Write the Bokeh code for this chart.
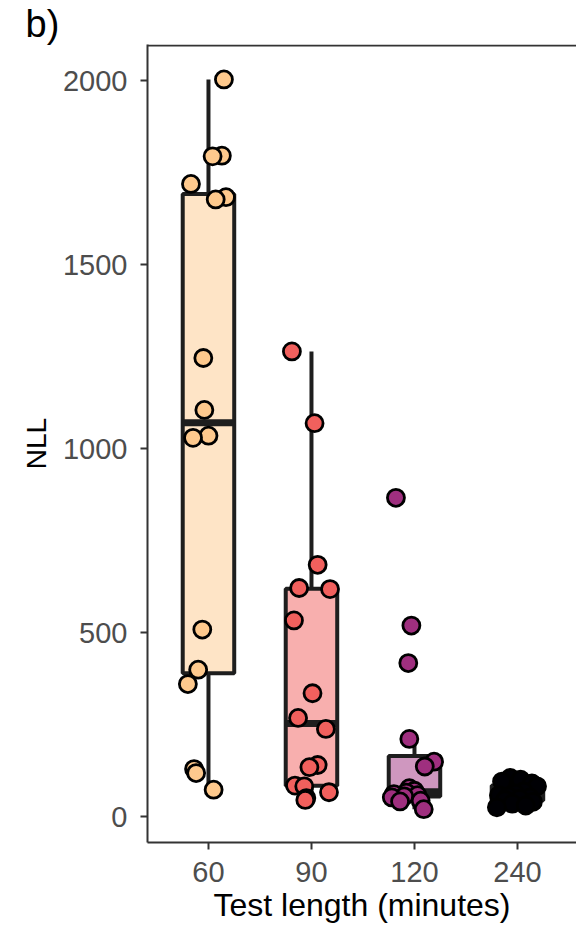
import numpy as np
from bokeh.plotting import figure
from bokeh.models import Range1d, FixedTicker, Span, ColumnDataSource
from bokeh.embed import file_html
from bokeh.resources import INLINE

# ---- data ----
categories = ["60", "90", "120", "240"]
point_colors = ["#FEC98D", "#F1605D", "#9F2F7F", "#000004"]

nll_60 = [2003, 1796, 1794, 1719, 1683, 1677, 1246, 1105, 1035, 1029, 508, 399, 360, 129, 118, 73]
jit_60 = [0.15, 0.13, 0.04, -0.17, 0.17, 0.07, -0.05, -0.04, 0.00, -0.15, -0.06, -0.10, -0.20, -0.14, -0.12, 0.05]

nll_90 = [1264, 1069, 684, 621, 618, 533, 335, 268, 238, 140, 134, 84, 82, 66, 50, 45]
jit_90 = [-0.19, 0.03, 0.06, -0.12, 0.18, -0.17, 0.01, -0.13, 0.14, 0.06, -0.02, -0.16, -0.07, 0.17, -0.05, -0.06]

nll_120 = [866, 519, 417, 211, 149, 136, 77, 70, 65, 61, 58, 55, 52, 43, 41, 20]
jit_120 = [-0.18, -0.03, -0.06, -0.05, 0.19, 0.10, -0.05, 0.00, -0.08, -0.20, 0.03, -0.10, -0.22, 0.06, -0.14, 0.09]

nll_240 = [105, 100, 95, 90, 82, 68, 62, 58, 55, 52, 48, 45, 40, 35, 30, 25]
jit_240 = [-0.07, 0.03, -0.15, 0.14, 0.19, 0.06, -0.02, -0.18, -0.09, 0.12, 0.02, -0.12, 0.15, -0.05, 0.08, -0.20]

groups = [nll_60, nll_90, nll_120, nll_240]
jitters = [jit_60, jit_90, jit_120, jit_240]
y_ticks = [0, 500, 1000, 1500, 2000]
panel_tag = "b)"

# ---- figure ----
W, H = 576, 926
LEFT, TOP, BOTTOM = 147, 44, 84
X0 = 0.408
X1 = X0 + (W - LEFT) / 103.0
Y0, Y1 = -70.6, 2098
FONT = "Liberation Sans"
AX = "#333333"

p = figure(width=W, height=H, output_backend="svg", toolbar_location=None,
           x_range=Range1d(X0, X1), y_range=Range1d(Y0, Y1),
           min_border_left=LEFT, min_border_right=0, min_border_top=TOP,
           min_border_bottom=BOTTOM)
p.background_fill_color = "white"
p.border_fill_color = "white"
p.outline_line_color = None
p.grid.visible = False

# panel tag as the plot title, pushed to the left edge of the canvas
p.title.text = panel_tag
p.title.text_font = FONT
p.title.text_font_size = "38px"
p.title.text_font_style = "normal"
p.title.text_color = "black"
p.title.align = "left"
p.title.offset = 25 - LEFT
p.title.standoff = 0

BOX_LINE = "#1E1E1E"
HALF = 0.25

for i, (vals, jit, col) in enumerate(zip(groups, jitters, point_colors)):
    xc = i + 1
    v = np.array(vals, dtype=float)
    q1, med, q3 = np.percentile(v, [25, 50, 75])
    iqr = q3 - q1
    lo = v[v >= q1 - 1.5 * iqr].min()
    hi = v[v <= q3 + 1.5 * iqr].max()
    p.segment(x0=[xc, xc], y0=[q3, q1], x1=[xc, xc], y1=[hi, lo],
              line_color=BOX_LINE, line_width=4)
    p.quad(left=[xc - HALF], right=[xc + HALF], bottom=[q1], top=[q3],
           fill_color=col, fill_alpha=0.5, line_color=BOX_LINE, line_width=4)
    p.segment(x0=[xc - HALF], y0=[med], x1=[xc + HALF], y1=[med],
              line_color=BOX_LINE, line_width=7)

for i, (vals, jit, col) in enumerate(zip(groups, jitters, point_colors)):
    xs = [i + 1 + j for j in jit]
    src = ColumnDataSource(dict(x=xs, y=vals))
    p.scatter("x", "y", source=src, size=17, fill_color=col, line_color="black",
              line_width=2.8)

# ---- axes ----
p.xaxis.ticker = FixedTicker(ticks=[1, 2, 3, 4])
p.xaxis.major_label_overrides = {i + 1: c for i, c in enumerate(categories)}
p.yaxis.ticker = FixedTicker(ticks=y_ticks)
for ax in (p.xaxis[0], p.yaxis[0]):
    ax.axis_line_color = AX
    ax.axis_line_width = 2
    ax.major_tick_line_color = AX
    ax.major_tick_line_width = 2
    ax.major_tick_out = 7
    ax.major_tick_in = 0
    ax.minor_tick_line_color = None
    ax.major_label_text_font = FONT
    ax.major_label_text_font_size = "29px"
    ax.major_label_text_color = "#4D4D4D"
    ax.axis_label_text_font = FONT
    ax.axis_label_text_font_style = "normal"
    ax.axis_label_text_color = "black"

p.xaxis.axis_label = "Test length (minutes)"
p.yaxis.axis_label = "NLL"
p.xaxis.axis_label_text_font_size = "32px"
p.yaxis.axis_label_text_font_size = "28px"
p.xaxis.major_label_standoff = 12
p.xaxis.axis_label_standoff = 2
p.yaxis.major_label_standoff = 13
p.yaxis.axis_label_standoff = 8

# top border of the panel (drawn just inside the frame's top edge)
frame_h = H - TOP - BOTTOM
one_px = (Y1 - Y0) / frame_h
p.add_layout(Span(location=Y1 - one_px, dimension="width", line_color=AX, line_width=2))

open("out.html", "w").write(file_html(p, INLINE))
